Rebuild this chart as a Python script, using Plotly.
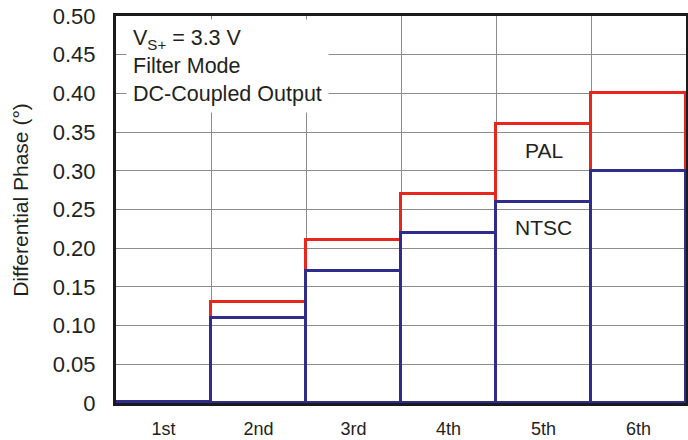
import plotly.graph_objects as go

categories = ["1st", "2nd", "3rd", "4th", "5th", "6th"]
pal_values = [0.001, 0.13, 0.21, 0.27, 0.36, 0.40]
ntsc_values = [0.001, 0.11, 0.17, 0.22, 0.26, 0.30]
y_tick_vals = [0, 0.05, 0.10, 0.15, 0.20, 0.25, 0.30, 0.35, 0.40, 0.45, 0.50]
y_tick_text = ["0", "0.05", "0.10", "0.15", "0.20", "0.25", "0.30", "0.35", "0.40", "0.45", "0.50"]

RED = "#e8261c"
BLUE = "#2f2c8c"
TXT = "#231f20"
FONT = "Liberation Sans, Arial, Helvetica, sans-serif"

fig = go.Figure()
fig.add_trace(go.Bar(
    x=categories, y=pal_values, name="PAL",
    marker=dict(color="rgba(0,0,0,0)", line=dict(color=RED, width=3)),
    width=1, hoverinfo="x+y+name",
))
fig.add_trace(go.Bar(
    x=categories, y=ntsc_values, name="NTSC",
    marker=dict(color="rgba(0,0,0,0)", line=dict(color=BLUE, width=3)),
    width=1, hoverinfo="x+y+name",
))

fig.update_layout(
    width=688, height=440,
    margin=dict(l=116, r=2, t=16, b=37, autoexpand=False),
    paper_bgcolor="white", plot_bgcolor="white",
    barmode="overlay", bargap=0,
    showlegend=False,
    font=dict(family=FONT, color=TXT),
)

fig.update_xaxes(
    type="category", categoryorder="array", categoryarray=categories,
    range=[-0.5, 5.5], tickson="boundaries", automargin=False,
    showgrid=True, gridcolor="#8c8c8c", gridwidth=1,
    showline=True, mirror=True, linecolor="#1a1a1a", linewidth=3,
    ticks="", tickfont=dict(size=18, color=TXT), ticklabelstandoff=7,
    layer="below traces", zeroline=False,
)
fig.update_yaxes(
    range=[0, 0.5], tickvals=y_tick_vals, ticktext=y_tick_text, automargin=False,
    showgrid=True, gridcolor="#8c8c8c", gridwidth=1,
    showline=True, mirror=True, linecolor="#1a1a1a", linewidth=3,
    ticks="", tickfont=dict(size=22, color=TXT), ticklabelstandoff=13,
    layer="below traces", zeroline=False,
)

# y-axis title
fig.add_annotation(
    text="Differential Phase (°)", xref="paper", yref="paper",
    x=(21 - 116) / 570, y=0.525, xanchor="center", yanchor="middle",
    textangle=-90, showarrow=False, font=dict(size=21, color=TXT),
)

# condition box
fig.add_annotation(
    text="V<sub>S+</sub> = 3.3 V<br>Filter Mode<br>DC-Coupled Output",
    xref="paper", yref="paper", x=(126 - 116) / 570, y=1 - (19 - 16) / 387,
    xanchor="left", yanchor="top", align="left", showarrow=False,
    bgcolor="white", borderpad=6, font=dict(size=21.5, color=TXT),
)

# series labels
fig.add_annotation(text="PAL", x="5th", y=0.326, xref="x", yref="y",
                   showarrow=False, font=dict(size=21, color=TXT))
fig.add_annotation(text="NTSC", x="5th", y=0.227, xref="x", yref="y",
                   showarrow=False, font=dict(size=21, color=TXT))

fig.write_html("out.html")
